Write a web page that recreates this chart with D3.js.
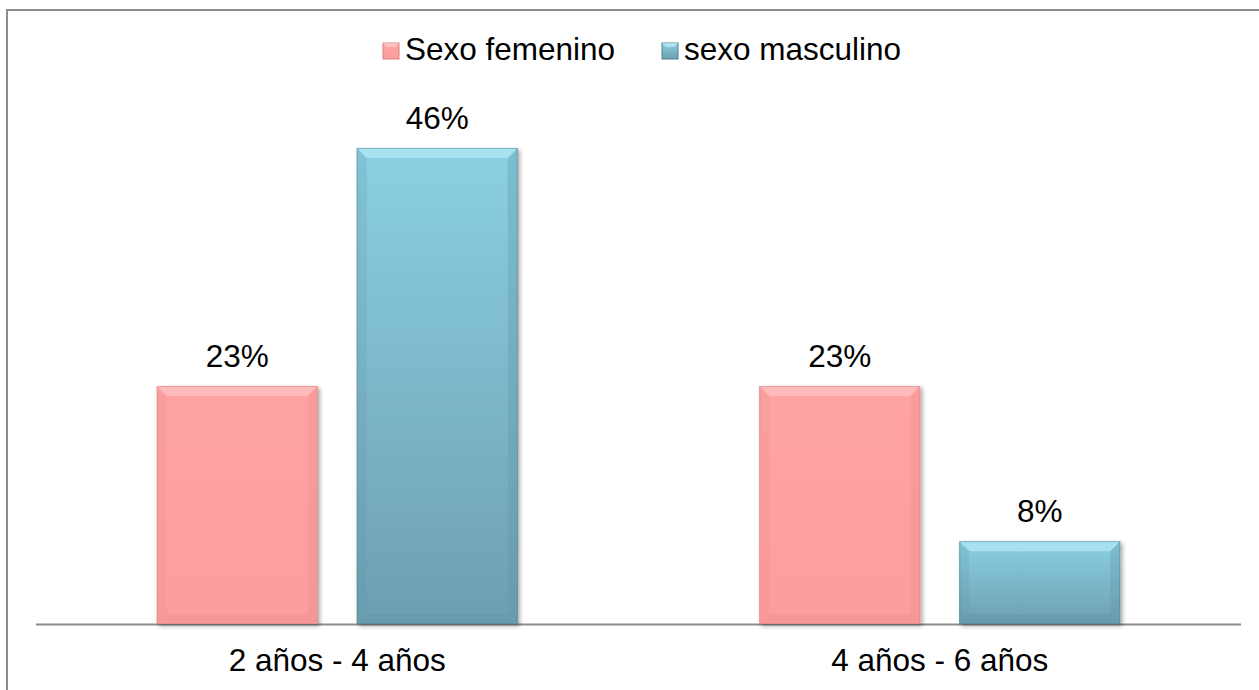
<!DOCTYPE html>
<html>
<head>
<meta charset="utf-8">
<script src="https://cdn.jsdelivr.net/npm/d3@7"></script>
<style>
  body { margin: 0; background: #fff; }
  svg { display: block; font-family: "Liberation Sans", Arial, sans-serif; }
</style>
</head>
<body>
<svg id="chart"></svg>
<script>
const categories = ['2 años - 4 años', '4 años - 6 años'];
const seriesNames = ['Sexo femenino', 'sexo masculino'];
const femenino = [23, 23];
const masculino = [46, 8];

const width = 1259;
const height = 690;
const fontSize = 31.5;

const svg = d3.select('#chart')
    .attr('width', width)
    .attr('height', height);

const defs = svg.append('defs');

// gradients for the bevelled bars
const grads = [
    { id: 'gFem', top: '#ffa3a3', bottom: '#fd9d9d' },
    { id: 'gMas', top: '#8bd0e4', bottom: '#6d9fb0' }
];
grads.forEach(g => {
    const lg = defs.append('linearGradient')
        .attr('id', g.id)
        .attr('x1', 0).attr('y1', 0).attr('x2', 0).attr('y2', 1);
    lg.append('stop').attr('offset', '0%').attr('stop-color', g.top);
    lg.append('stop').attr('offset', '100%').attr('stop-color', g.bottom);
});

const shadow = defs.append('filter').attr('id', 'shadow')
    .attr('x', '-10%').attr('y', '-10%').attr('width', '130%').attr('height', '130%');
shadow.append('feGaussianBlur').attr('in', 'SourceAlpha').attr('stdDeviation', 2);
shadow.append('feOffset').attr('dx', 2).attr('dy', 2).attr('result', 'b');
shadow.append('feComponentTransfer').append('feFuncA').attr('type', 'linear').attr('slope', 0.35);
const merge = shadow.append('feMerge');
merge.append('feMergeNode');
merge.append('feMergeNode').attr('in', 'SourceGraphic');

// outer frame
svg.append('rect')
    .attr('x', 7).attr('y', 10)
    .attr('width', width + 10).attr('height', height + 10)
    .attr('fill', 'none')
    .attr('stroke', '#8c8c8c')
    .attr('stroke-width', 2);

const plotLeft = 36, plotRight = 1241, baseY = 624;

const x0 = d3.scaleBand()
    .domain(categories)
    .range([plotLeft, plotRight]);

const x1 = d3.scaleBand()
    .domain(seriesNames)
    .range([120.75, x0.bandwidth() - 120.75])
    .paddingInner(0.195);

const y = d3.scaleLinear()
    .domain([0, 50])
    .range([baseY, baseY - 517.4]);

const colors = { 'Sexo femenino': 'gFem', 'sexo masculino': 'gMas' };
const edge = { 'Sexo femenino': ['#ffd0d0', '#e88c8c', '#d98181'], 'sexo masculino': ['#c2f0fb', '#5f93a4', '#4f7f8e'] };

const data = [];
categories.forEach((c, i) => {
    data.push({ cat: c, s: seriesNames[0], v: femenino[i] });
    data.push({ cat: c, s: seriesNames[1], v: masculino[i] });
});

// baseline
svg.append('line')
    .attr('x1', plotLeft).attr('x2', plotRight)
    .attr('y1', baseY + 0.5).attr('y2', baseY + 0.5)
    .attr('stroke', '#8c8c8c').attr('stroke-width', 2);

const bars = svg.append('g').selectAll('g')
    .data(data)
    .enter().append('g')
    .attr('filter', 'url(#shadow)');

bars.each(function (d) {
    const g = d3.select(this);
    const bx = x0(d.cat) + x1(d.s);
    const bw = x1.bandwidth();
    const by = y(d.v);
    const bh = baseY - by;
    const k = 10; // bevel size
    const e = edge[d.s];
    g.append('rect')
        .attr('x', bx).attr('y', by)
        .attr('width', bw).attr('height', bh)
        .attr('fill', `url(#${colors[d.s]})`);
    // top bevel (light)
    g.append('path')
        .attr('d', `M${bx},${by}L${bx + bw},${by}L${bx + bw - k},${by + k}L${bx + k},${by + k}Z`)
        .attr('fill', e[0]).attr('opacity', 0.55);
    // side bevels
    g.append('path')
        .attr('d', `M${bx},${by}L${bx + k},${by + k}L${bx + k},${by + bh - k}L${bx},${by + bh}Z`)
        .attr('fill', e[1]).attr('opacity', 0.2);
    g.append('path')
        .attr('d', `M${bx + bw},${by}L${bx + bw - k},${by + k}L${bx + bw - k},${by + bh - k}L${bx + bw},${by + bh}Z`)
        .attr('fill', e[1]).attr('opacity', 0.3);
    // bottom bevel (dark)
    g.append('path')
        .attr('d', `M${bx},${by + bh}L${bx + k},${by + bh - k}L${bx + bw - k},${by + bh - k}L${bx + bw},${by + bh}Z`)
        .attr('fill', e[1]).attr('opacity', 0.35);
    g.append('rect')
        .attr('x', bx + 0.5).attr('y', by + 0.5)
        .attr('width', bw - 1).attr('height', bh - 1)
        .attr('fill', 'none')
        .attr('stroke', e[2]).attr('stroke-opacity', 0.5);
});

// value labels
svg.append('g').selectAll('text')
    .data(data)
    .enter().append('text')
    .attr('x', d => x0(d.cat) + x1(d.s) + x1.bandwidth() / 2)
    .attr('y', d => y(d.v) - 19)
    .attr('text-anchor', 'middle')
    .attr('font-size', fontSize)
    .attr('fill', '#000')
    .text(d => d.v + '%');

// category labels
svg.append('g').selectAll('text')
    .data(categories)
    .enter().append('text')
    .attr('x', d => x0(d) + x0.bandwidth() / 2)
    .attr('y', 671)
    .attr('text-anchor', 'middle')
    .attr('font-size', fontSize)
    .attr('fill', '#000')
    .text(d => d);

// legend
const legendItems = [
    { name: seriesNames[0], x: 383, fill: 'gFem', edge: edge[seriesNames[0]] },
    { name: seriesNames[1], x: 662, fill: 'gMas', edge: edge[seriesNames[1]] }
];
const lg = svg.append('g').selectAll('g')
    .data(legendItems)
    .enter().append('g');
lg.append('rect')
    .attr('x', d => d.x).attr('y', 43)
    .attr('width', 16).attr('height', 16)
    .attr('fill', d => `url(#${d.fill})`)
    .attr('stroke', d => d.edge[2]).attr('stroke-width', 1);
lg.append('path')
    .attr('d', d => `M${d.x},43L${d.x + 16},43L${d.x + 12},47L${d.x + 4},47Z`)
    .attr('fill', d => d.edge[0]).attr('opacity', 0.7);
lg.append('text')
    .attr('x', d => d.x + 22)
    .attr('y', 60)
    .attr('font-size', fontSize)
    .attr('fill', '#000')
    .text(d => d.name);
</script>
</body>
</html>
